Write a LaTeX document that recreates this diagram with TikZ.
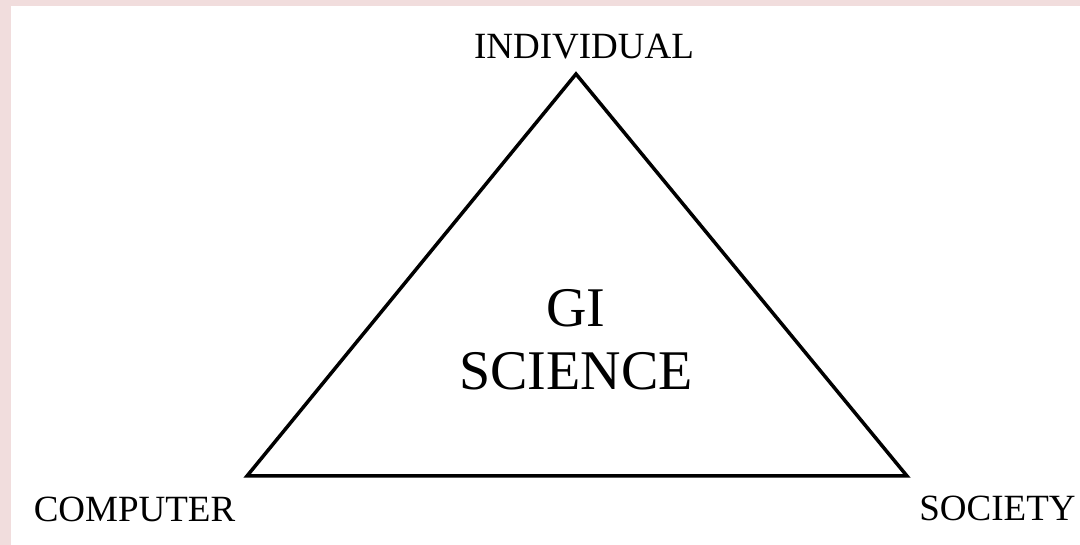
\documentclass[tikz,border=0pt]{standalone}
\usepackage{fontspec}
\setmainfont{Liberation Serif}
\definecolor{pinkedge}{RGB}{241,221,221}
\begin{document}
\begin{tikzpicture}[x=1pt,y=-1pt,
  corner/.style={font=\fontsize{37}{40}\selectfont, anchor=base, inner sep=0pt},
  centre/.style={font=\fontsize{56}{63}\selectfont, anchor=base, inner sep=0pt, align=center},
  edge/.style={line width=3.5pt, line join=miter}]
\useasboundingbox (0,0) rectangle (1080,545);
\fill[white] (0,0) rectangle (1080,545);
\fill[pinkedge] (0,0) rectangle (1080,6);
\fill[pinkedge] (0,0) rectangle (11,545);
\coordinate (top) at (576,74);
\coordinate (left) at (247,476);
\coordinate (right) at (907,476);
\draw[edge] (top) -- (right) -- (left) -- cycle;
\node[corner] (individual) at (584,59) {INDIVIDUAL};
\node[corner] (computer) at (134.5,521) {COMPUTER};
\node[corner] (society) at (997.5,520) {SOCIETY};
\node[centre] (gi) at (576,327) {GI};
\node[centre] (science) at (576,390) {SCIENCE};
\end{tikzpicture}
\end{document}
